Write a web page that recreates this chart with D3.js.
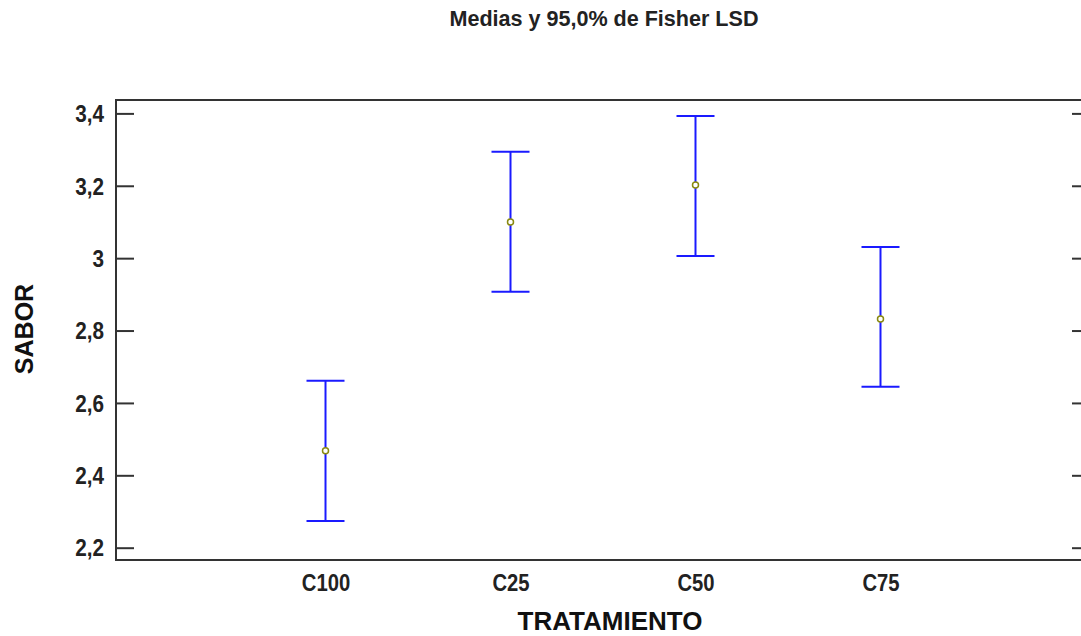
<!DOCTYPE html>
<html>
<head>
<meta charset="utf-8">
<script src="https://cdn.jsdelivr.net/npm/d3@7"></script>
<style>
  body { margin: 0; background: #fff; }
  text { font-family: "Liberation Sans", Arial, sans-serif; font-weight: bold; }
</style>
</head>
<body>
<div id="chart"></div>
<script>
// Data
var categories = ["C100", "C25", "C50", "C75"];
var means = [2.468, 3.100, 3.202, 2.832];
var lower = [2.274, 2.907, 3.006, 2.645];
var upper = [2.661, 3.294, 3.393, 3.031];
var yTicks = [2.2, 2.4, 2.6, 2.8, 3.0, 3.2, 3.4];

var width = 1081, height = 636,
	margin = {top: 100, right: -9, bottom: 76, left: 116},
	w = width - margin.left - margin.right,
	h = height - margin.top - margin.bottom;

var svg = d3.select("#chart").append("svg")
	.attr("width", width)
	.attr("height", height);

var g = svg.append("g")
	.attr("transform", "translate(" + margin.left + "," + margin.top + ")");

var xScale = d3.scalePoint().domain(categories).range([0, w]).padding(1.1325);
var yScale = d3.scaleLinear().domain([2.166, 3.437]).range([h, 0]);

var fmt = function(d) { return String(+d.toFixed(1)).replace(".", ","); };

// narrow the glyphs horizontally, keeping the anchor point
function squeeze(sel, k) {
	sel.each(function() {
		var t = d3.select(this), x = +t.attr("x") || 0;
		t.attr("x", x / k).attr("transform", "scale(" + k + ",1)");
	});
}

// Frame
g.append("rect")
	.attr("x", 0).attr("y", 0)
	.attr("width", w).attr("height", h)
	.attr("fill", "none")
	.attr("stroke", "#333")
	.attr("stroke-width", 2);

// Left axis ticks (inward)
var yAxis = d3.axisLeft(yScale).tickValues(yTicks).tickSize(-18).tickPadding(12).tickFormat(fmt);
var ya = g.append("g").call(yAxis);
ya.select(".domain").remove();
ya.selectAll(".tick line").attr("stroke", "#333").attr("stroke-width", 2);
ya.selectAll(".tick text")
	.attr("font-family", null)
	.attr("font-size", 23)
	.attr("dy", "0.36em")
	.attr("fill", "#222")
	.call(squeeze, 0.9);

// Right axis ticks (inward)
var yAxisR = d3.axisRight(yScale).tickValues(yTicks).tickSize(-18).tickFormat("");
var yr = g.append("g").attr("transform", "translate(" + w + ",0)").call(yAxisR);
yr.select(".domain").remove();
yr.selectAll(".tick line").attr("stroke", "#333").attr("stroke-width", 2);

// X axis labels
var xAxis = d3.axisBottom(xScale).tickSize(0).tickPadding(15);
var xa = g.append("g").attr("transform", "translate(0," + h + ")").call(xAxis);
xa.select(".domain").remove();
xa.selectAll(".tick text")
	.attr("font-size", 23)
	.attr("fill", "#222")
	.call(squeeze, 0.88);

// Error bars
var rows = categories.map(function(c, i) {
	return {cat: c, mean: means[i], lo: lower[i], hi: upper[i]};
});
var capW = 19;
var bars = g.selectAll(".bar").data(rows).enter().append("g")
	.attr("class", "bar")
	.attr("stroke", "#1a1aff")
	.attr("stroke-width", 2);

bars.append("line")
	.attr("x1", function(d) { return xScale(d.cat); })
	.attr("x2", function(d) { return xScale(d.cat); })
	.attr("y1", function(d) { return yScale(d.lo); })
	.attr("y2", function(d) { return yScale(d.hi); });
bars.append("line")
	.attr("x1", function(d) { return xScale(d.cat) - capW; })
	.attr("x2", function(d) { return xScale(d.cat) + capW; })
	.attr("y1", function(d) { return yScale(d.hi); })
	.attr("y2", function(d) { return yScale(d.hi); });
bars.append("line")
	.attr("x1", function(d) { return xScale(d.cat) - capW; })
	.attr("x2", function(d) { return xScale(d.cat) + capW; })
	.attr("y1", function(d) { return yScale(d.lo); })
	.attr("y2", function(d) { return yScale(d.lo); });

// Means
g.selectAll(".mean").data(rows).enter().append("circle")
	.attr("class", "mean")
	.attr("cx", function(d) { return xScale(d.cat); })
	.attr("cy", function(d) { return yScale(d.mean); })
	.attr("r", 3)
	.attr("fill", "#fff")
	.attr("stroke", "#8a8a10")
	.attr("stroke-width", 1.5);

// Title
svg.append("text")
	.attr("x", 604).attr("y", 26)
	.attr("text-anchor", "middle")
	.attr("font-size", 22)
	.attr("fill", "#222")
	.text("Medias y 95,0% de Fisher LSD")
	.call(squeeze, 0.98);

// Axis titles
svg.append("text")
	.attr("x", 610).attr("y", 630)
	.attr("text-anchor", "middle")
	.attr("font-size", 26)
	.attr("fill", "#111")
	.text("TRATAMIENTO");

svg.append("text")
	.attr("transform", "translate(33,329) rotate(-90)")
	.attr("text-anchor", "middle")
	.attr("font-size", 25)
	.attr("fill", "#111")
	.text("SABOR");
</script>
</body>
</html>
